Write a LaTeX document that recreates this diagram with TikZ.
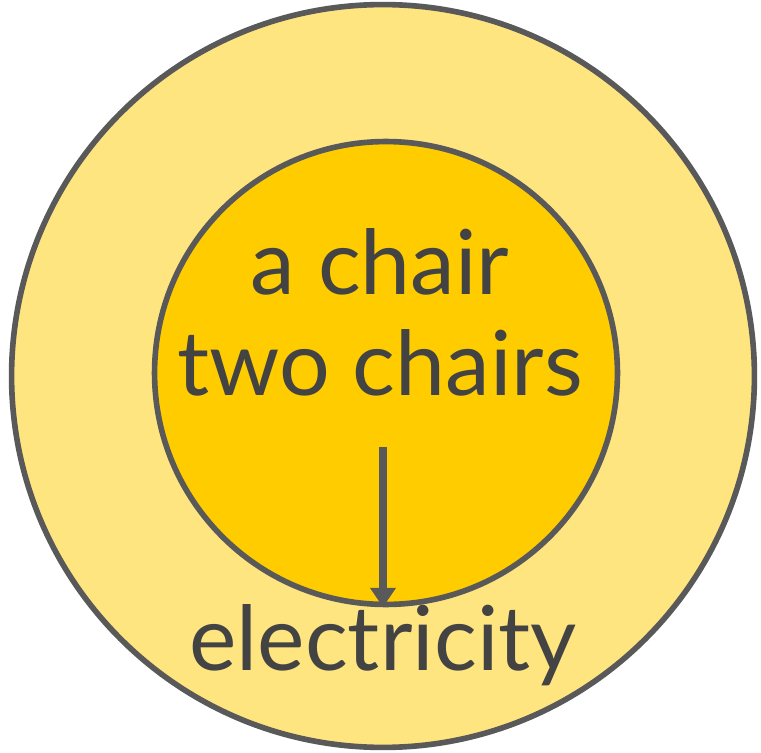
\documentclass[tikz,border=0pt]{standalone}
\usepackage{fontspec}
\setmainfont{Lato}
\usepackage{tikz}
\usetikzlibrary{arrows.meta, positioning}
\definecolor{ringline}{RGB}{89,89,89}
\definecolor{outerfill}{RGB}{255,229,128}
\definecolor{innerfill}{RGB}{255,204,0}
\definecolor{labeltext}{RGB}{67,67,67}
\tikzset{
  ring/.style={circle, draw=ringline, line width=3.2pt, inner sep=0pt},
  bigtext/.style={anchor=base, text=labeltext, font=\fontsize{51}{60}\selectfont},
  arrow/.style={-{Triangle[length=11pt, width=14pt]}, line width=4pt, color=ringline}
}
\begin{document}
\begin{tikzpicture}[x=0.02cm, y=-0.02cm]
  \useasboundingbox (0,0) rectangle (761,753);

  % the two circles
  \node[ring, fill=outerfill, minimum size=14.86cm] (outer) at (383,376) {};
  \node[ring, fill=innerfill, minimum size=9.26cm] (inner) at (386,373) {};

  % texts
  \node[bigtext] (one) at (380,295) {a chair};
  \node[bigtext] (two) at (380,396) {two chairs};
  \node[bigtext] (elec) at (383,670) {electricity};

  % arrow down to the edge
  \coordinate (start) at (383,447);
  \draw[arrow] (start) -- (start |- inner.south);
\end{tikzpicture}
\end{document}
